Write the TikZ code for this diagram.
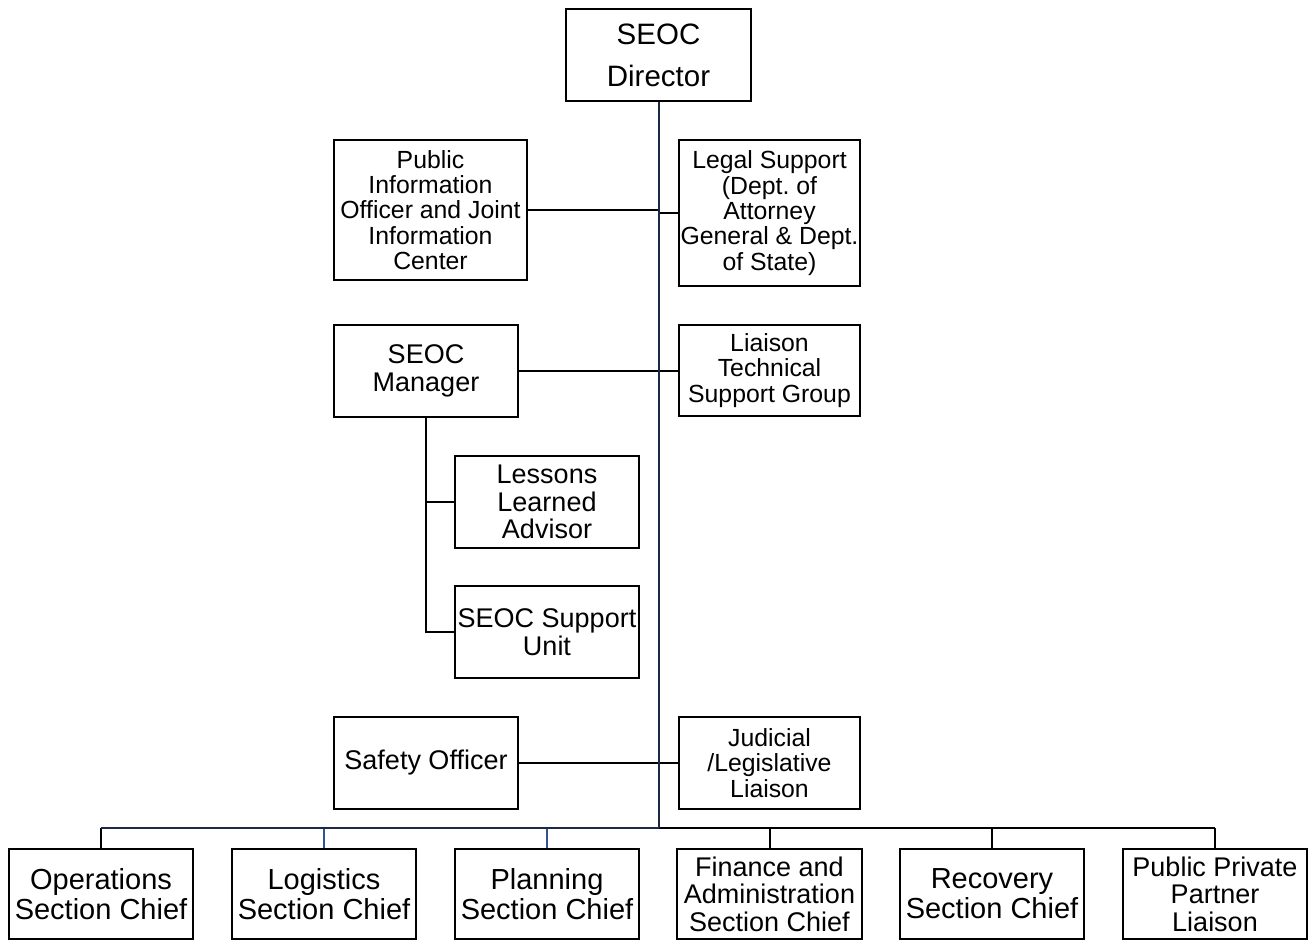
\documentclass[tikz,border=0pt]{standalone}
\usepackage{fontspec}
\setmainfont{Liberation Sans}
\frenchspacing
\begin{document}
\begin{tikzpicture}[x=1pt,y=-1pt,
  box/.style={draw=black, line width=2pt, rectangle, inner sep=0pt, align=center},
  fsdir/.style={font=\fontsize{29.5}{42}\selectfont},
  fsbig/.style={font=\fontsize{29}{30}\selectfont},
  fsmid/.style={font=\fontsize{27}{27.5}\selectfont},
  fssmall/.style={font=\fontsize{24.8}{25.3}\selectfont},
  link/.style={line width=2pt, draw=black},
  trunk/.style={line width=2.8pt, draw=navy},
  tap/.style={line width=1.4pt, draw=tapblue}]
\definecolor{navy}{RGB}{27,40,72}
\definecolor{tapblue}{RGB}{52,82,140}
\useasboundingbox (0,0) rectangle (1312,940);

% top of the chart
\node[box, fsdir, minimum width=185pt, minimum height=92pt] (dir) at (658.5,55) {SEOC\\Director};

% staff attached to the trunk
\node[box, fssmall, minimum width=193pt, minimum height=140pt] (pio) at (430.5,210)
  {Public\\Information\\Officer and Joint\\Information\\Center};
\node[box, fssmall, minimum width=181pt, minimum height=146pt] (legal) at (769.5,213)
  {Legal Support\\(Dept. of\\Attorney\\General \& Dept.\\of State)};
\node[box, fsmid, minimum width=184pt, minimum height=92pt] (mgr) at (426,371) {SEOC\\Manager};
\node[box, fssmall, minimum width=181pt, minimum height=91pt] (lts) at (769.5,370.5)
  {Liaison\\Technical\\Support Group};
\node[box, fsmid, minimum width=184pt, minimum height=92pt] (lla) at (547,502)
  {Lessons\\Learned\\Advisor};
\node[box, fsmid, minimum width=184pt, minimum height=92pt] (ssu) at (547,632)
  {SEOC Support\\Unit};
\node[box, fsmid, minimum width=184pt, minimum height=92pt] (safety) at (426,763) {Safety Officer};
\node[box, fssmall, minimum width=181pt, minimum height=92pt] (jud) at (769.5,763)
  {Judicial\\/Legislative\\Liaison};

% section chiefs
\node[box, fsbig, minimum width=184pt, minimum height=90pt] (ops) at (101,894) {Operations\\Section Chief};
\node[box, fsbig, minimum width=184pt, minimum height=90pt] (log) at (324,894) {Logistics\\Section Chief};
\node[box, fsbig, minimum width=184pt, minimum height=90pt] (plan) at (547,894) {Planning\\Section Chief};
\node[box, fsmid, minimum width=185pt, minimum height=90pt] (fin) at (769.5,894)
  {Finance and\\Administration\\Section Chief};
\node[box, fsbig, minimum width=184pt, minimum height=90pt] (rec) at (992,894) {Recovery\\Section Chief};
\node[box, fsmid, minimum width=184pt, minimum height=90pt] (ppp) at (1215,894)
  {Public Private\\Partner\\Liaison};

\coordinate (bus) at (659,828);

% staff connectors
\draw[link] (pio.east) -- (pio.east -| bus);
\draw[link] (legal.west) -- (legal.west -| bus);
\draw[link] (mgr.east) -- (mgr.east -| bus);
\draw[link] (lts.west) -- (lts.west -| bus);
\draw[link] (safety.east) -- (safety.east -| bus);
\draw[link] (jud.west) -- (jud.west -| bus);

% manager's units
\draw[link] (mgr.south) |- (ssu.west);
\draw[link] (mgr.south |- lla.west) -- (lla.west);

% bus to the section chiefs
\draw[link] (ops.north) -- (ops.north |- bus);
\draw[tap] (log.north) -- (log.north |- bus);
\draw[tap] (plan.north) -- (plan.north |- bus);
\draw[link] (fin.north) -- (fin.north |- bus);
\draw[link] (rec.north) -- (rec.north |- bus);
\draw[link] (ppp.north) -- (ppp.north |- bus);
\draw[link] (bus) -- (ppp.north |- bus);
\draw[trunk, line width=2.2pt] (ops.north |- bus) -- (bus);

% main trunk
\draw[trunk] (dir.south -| bus) -- (bus);
\end{tikzpicture}
\end{document}
